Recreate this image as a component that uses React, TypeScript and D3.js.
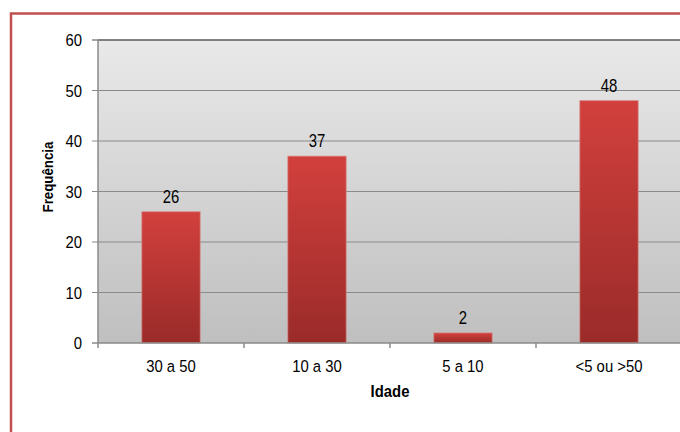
import React from "react";
import * as d3 from "d3";

const categories = ["30 a 50", "10 a 30", "5 a 10", "<5 ou >50"];
const values = [26, 37, 2, 48];
const yTicks = [0, 10, 20, 30, 40, 50, 60];
const xTitle = "Idade";
const yTitle = "Frequência";

const W = 680;
const H = 432;
const plot = { left: 98, top: 40, right: 682, bottom: 343 };
const FONT = "'Liberation Sans', Arial, sans-serif";

export default function App() {
  const x = d3
    .scaleBand<string>()
    .domain(categories)
    .range([plot.left, plot.right])
    .paddingInner(0.6)
    .paddingOuter(0.3);
  const band = (plot.right - plot.left) / categories.length;
  const y = d3.scaleLinear().domain([0, 60]).range([plot.bottom, plot.top]);

  const txt = (
    key: string,
    tx: number,
    ty: number,
    s: string,
    size: number,
    sx: number,
    anchor: string,
    weight = "normal",
    rotate = 0
  ) => (
    <text
      key={key}
      transform={`translate(${tx},${ty}) rotate(${rotate}) scale(${sx},1)`}
      textAnchor={anchor}
      fontFamily={FONT}
      fontSize={size}
      fontWeight={weight}
      fill="#000"
    >
      {s}
    </text>
  );

  return (
    <svg
      width={W}
      height={H}
      style={{ position: "absolute", left: 0, top: 0, background: "#fff" }}
    >
      <defs>
        <linearGradient id="bg" x1="0" y1="0" x2="0" y2="1">
          <stop offset="0" stopColor="#e9e9e9" />
          <stop offset="1" stopColor="#bfbfbf" />
        </linearGradient>
        <linearGradient id="bar" x1="0" y1="0" x2="0" y2="1">
          <stop offset="0" stopColor="#d2403d" />
          <stop offset="1" stopColor="#9a2b29" />
        </linearGradient>
      </defs>
      <rect x={0} y={0} width={W} height={H} fill="#fff" />
      {/* outer border */}
      <rect
        x={11}
        y={13.5}
        width={W + 20}
        height={H + 20}
        fill="none"
        stroke="#c0504d"
        strokeWidth={2.5}
      />
      {/* plot background */}
      <rect
        x={plot.left}
        y={plot.top}
        width={plot.right - plot.left}
        height={plot.bottom - plot.top}
        fill="url(#bg)"
      />
      {/* gridlines */}
      {yTicks.map((t) =>
        t === 0 || t === 60 ? null : (
          <line
            key={"g" + t}
            x1={plot.left - 6}
            x2={plot.right}
            y1={y(t)}
            y2={y(t)}
            stroke="#8a8a8a"
            strokeWidth={1}
          />
        )
      )}
      <line
        x1={plot.left - 6}
        x2={plot.right}
        y1={y(60)}
        y2={y(60)}
        stroke="#5a5a5a"
        strokeWidth={1.5}
      />
      <line
        x1={plot.left - 6}
        x2={plot.left}
        y1={y(60)}
        y2={y(60)}
        stroke="#b0b0b0"
        strokeWidth={1.5}
      />
      {/* bars */}
      {categories.map((c, i) => (
        <rect
          key={"b" + c}
          x={x(c)}
          y={y(values[i])}
          width={x.bandwidth()}
          height={plot.bottom - y(values[i])}
          fill="url(#bar)"
          stroke="#d58a88"
          strokeOpacity={0.7}
          strokeWidth={1}
        />
      ))}
      {/* axes */}
      <line
        x1={plot.left}
        x2={plot.left}
        y1={plot.top}
        y2={plot.bottom}
        stroke="#8a8a8a"
        strokeWidth={1.5}
      />
      <line
        x1={plot.left - 6}
        x2={plot.right}
        y1={plot.bottom}
        y2={plot.bottom}
        stroke="#8a8a8a"
        strokeWidth={1.5}
      />
      {categories.map((c, i) => (
        <line
          key={"t" + c}
          x1={plot.left + band * i}
          x2={plot.left + band * i}
          y1={plot.bottom}
          y2={plot.bottom + 5}
          stroke="#8a8a8a"
          strokeWidth={1.5}
        />
      ))}
      {/* y tick labels */}
      {yTicks.map((t) => txt("y" + t, 82, y(t) + 6, String(t), 16.5, 0.9, "end"))}
      {/* x tick labels */}
      {categories.map((c) =>
        txt("x" + c, (x(c) as number) + x.bandwidth() / 2, 372, c, 16.5, 0.9, "middle")
      )}
      {/* value labels */}
      {categories.map((c, i) =>
        txt(
          "v" + c,
          (x(c) as number) + x.bandwidth() / 2,
          y(values[i]) - 9,
          String(values[i]),
          17.5,
          0.85,
          "middle"
        )
      )}
      {txt("xt", 390, 397, xTitle, 16, 0.93, "middle", "bold")}
      {txt("yt", 53, 177, yTitle, 14, 0.95, "middle", "bold", -90)}
    </svg>
  );
}
